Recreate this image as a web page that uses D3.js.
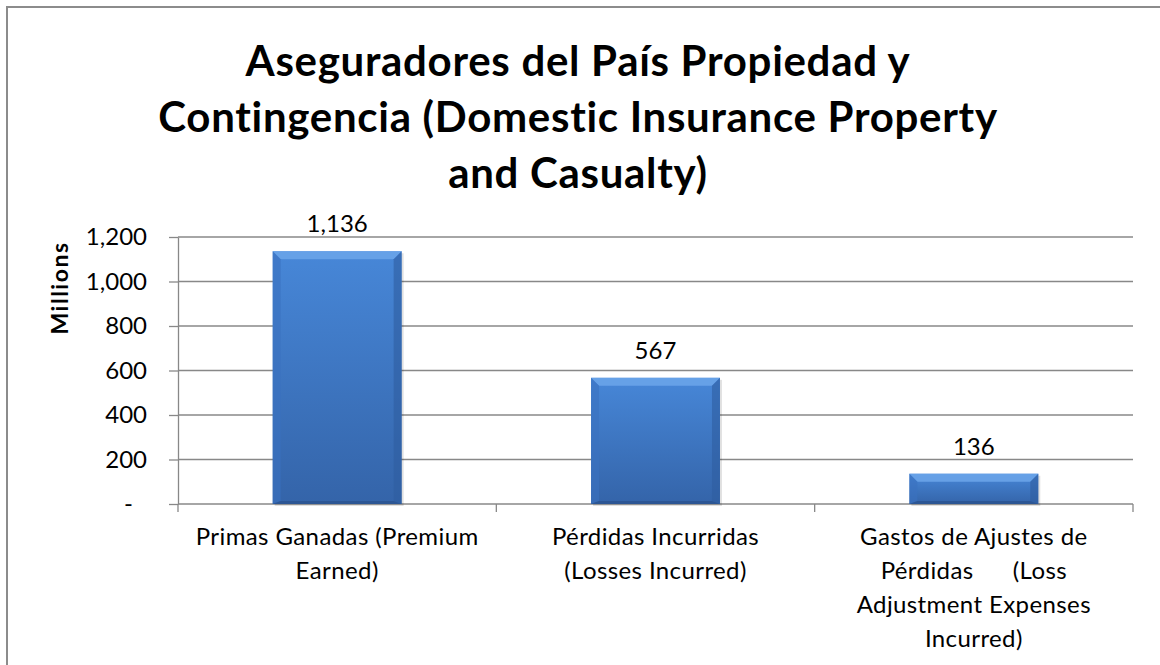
<!DOCTYPE html>
<html>
<head>
<meta charset="utf-8">
<script src="https://cdn.jsdelivr.net/npm/d3@7/dist/d3.min.js"></script>
<style>
  body { margin: 0; background: #fff; }
  svg text { font-family: Lato, "Open Sans", sans-serif; fill: #000; }
</style>
</head>
<body>
<div id="chart"></div>
<script>
// data
const titleLines = ["Aseguradores del País Propiedad y", "Contingencia (Domestic Insurance Property", "and Casualty)"];
const categories = ["Primas Ganadas", "Pérdidas Incurridas", "Gastos de Ajustes"];
const categoryLabels = [
  ["Primas Ganadas (Premium", "Earned)"],
  ["Pérdidas Incurridas", "(Losses Incurred)"],
  ["Gastos de Ajustes de", "Pérdidas      (Loss", "Adjustment Expenses", "Incurred)"]
];
const values = [1136, 567, 136];
const yTicks = [0, 200, 400, 600, 800, 1000, 1200];
const yTitle = "Millions";

const width = 1160, height = 665;
const margin = { top: 237, right: 27, bottom: 161, left: 178 };

const svg = d3.select("#chart").append("svg")
  .attr("width", width)
  .attr("height", height);

const defs = svg.append("defs");
const grad = defs.append("linearGradient").attr("id", "barFill")
  .attr("x1", 0).attr("y1", 0).attr("x2", 0).attr("y2", 1);
grad.append("stop").attr("offset", "0%").attr("stop-color", "#4787d8");
grad.append("stop").attr("offset", "100%").attr("stop-color", "#3464a9");

// outer border
svg.append("rect")
  .attr("x", 7).attr("y", 7)
  .attr("width", width).attr("height", height)
  .attr("fill", "none").attr("stroke", "#8c8c8c").attr("stroke-width", 2);

const x = d3.scaleBand()
  .domain(categories)
  .range([margin.left, width - margin.right])
  .padding(0);

const y = d3.scaleLinear()
  .domain([0, 1200])
  .range([height - margin.bottom, margin.top]);

// gridlines
svg.append("g")
  .selectAll("line")
  .data(yTicks.filter(d => d > 0))
  .enter().append("line")
  .attr("x1", margin.left).attr("x2", width - margin.right)
  .attr("y1", d => y(d)).attr("y2", d => y(d))
  .attr("stroke", "#888").attr("stroke-width", 1.3);

// y axis
const yAxis = svg.append("g")
  .attr("transform", `translate(${margin.left},0)`)
  .call(d3.axisLeft(y).tickValues(yTicks).tickSize(9).tickSizeOuter(0).tickPadding(22)
    .tickFormat(d => d === 0 ? "-" : d3.format(",")(d)));
yAxis.select(".domain").attr("stroke", "#888").attr("stroke-width", 1.3);
yAxis.selectAll(".tick line").attr("stroke", "#888").attr("stroke-width", 1.3);
yAxis.selectAll(".tick text")
  .attr("font-size", "24px")
  .attr("fill", "#000")
  .attr("dx", d => d === 0 ? -14 : 0);

// y axis extends a bit below baseline
svg.append("line")
  .attr("x1", margin.left).attr("x2", margin.left)
  .attr("y1", y(0)).attr("y2", y(0) + 8)
  .attr("stroke", "#888").attr("stroke-width", 1.3);

// x axis line and category boundary ticks
svg.append("line")
  .attr("x1", margin.left).attr("x2", width - margin.right)
  .attr("y1", y(0)).attr("y2", y(0))
  .attr("stroke", "#888").attr("stroke-width", 1.3);
const bounds = categories.map(c => x(c)).concat([x.range()[1]]);
svg.append("g").selectAll("line")
  .data(bounds.slice(1))
  .enter().append("line")
  .attr("x1", d => d).attr("x2", d => d)
  .attr("y1", y(0)).attr("y2", y(0) + 8)
  .attr("stroke", "#888").attr("stroke-width", 1.3);

// bars with bevel
const barW = x.bandwidth() * 0.405;
const bars = svg.append("g").selectAll("g")
  .data(values)
  .enter().append("g");

bars.each(function(v, i) {
  const g = d3.select(this);
  const cx = x(categories[i]) + x.bandwidth() / 2;
  const x0 = cx - barW / 2, x1 = cx + barW / 2;
  const y0 = y(v), y1 = y(0);
  const b = 8;
  g.append("rect")
    .attr("x", x0 + 2).attr("y", y0 + 2)
    .attr("width", barW).attr("height", y1 - y0)
    .attr("fill", "#000").attr("opacity", 0.12);
  g.append("rect")
    .attr("x", x0).attr("y", y0)
    .attr("width", barW).attr("height", y1 - y0)
    .attr("fill", "url(#barFill)");
  // top bevel
  g.append("polygon")
    .attr("points", [[x0, y0], [x1, y0], [x1 - b, y0 + b], [x0 + b, y0 + b]].join(" "))
    .attr("fill", "#6ca6ea").attr("opacity", 0.85);
  // left bevel
  g.append("polygon")
    .attr("points", [[x0, y0], [x0 + b, y0 + b], [x0 + b, y1 - 3], [x0, y1]].join(" "))
    .attr("fill", "#3a72c0").attr("opacity", 0.6);
  // right bevel
  g.append("polygon")
    .attr("points", [[x1, y0], [x1 - b, y0 + b], [x1 - b, y1 - 3], [x1, y1]].join(" "))
    .attr("fill", "#2e5da0").attr("opacity", 0.6);
  // bottom edge
  g.append("polygon")
    .attr("points", [[x0, y1], [x0 + b, y1 - 3], [x1 - b, y1 - 3], [x1, y1]].join(" "))
    .attr("fill", "#2a538f").attr("opacity", 0.8);
});

// data labels
svg.append("g").selectAll("text")
  .data(values)
  .enter().append("text")
  .attr("x", (d, i) => x(categories[i]) + x.bandwidth() / 2)
  .attr("y", d => y(d) - 19)
  .attr("text-anchor", "middle")
  .attr("font-size", "24px")
  .text(d => d3.format(",")(d));

// category labels
const catG = svg.append("g").selectAll("text")
  .data(categoryLabels)
  .enter().append("text")
  .attr("text-anchor", "middle")
  .attr("font-size", "24px")
  .attr("letter-spacing", "0.4px")
  .style("white-space", "pre");
catG.each(function(lines, i) {
  const t = d3.select(this);
  const cx = x(categories[i]) + x.bandwidth() / 2;
  lines.forEach((ln, j) => {
    t.append("tspan")
      .attr("x", cx)
      .attr("y", 545 + j * 34)
      .text(ln);
  });
});

// y axis title
svg.append("text")
  .attr("transform", `translate(68,288) rotate(-90)`)
  .attr("text-anchor", "middle")
  .attr("font-size", "23px")
  .attr("font-weight", "bold")
  .attr("letter-spacing", "1.5px")
  .text(yTitle);

// chart title
const title = svg.append("text")
  .attr("text-anchor", "middle")
  .attr("font-size", "42px")
  .attr("font-weight", "bold")
  .attr("letter-spacing", "0.7px");
titleLines.forEach((ln, j) => {
  title.append("tspan")
    .attr("x", 578)
    .attr("y", 76 + j * 56)
    .text(ln);
});
</script>
</body>
</html>
